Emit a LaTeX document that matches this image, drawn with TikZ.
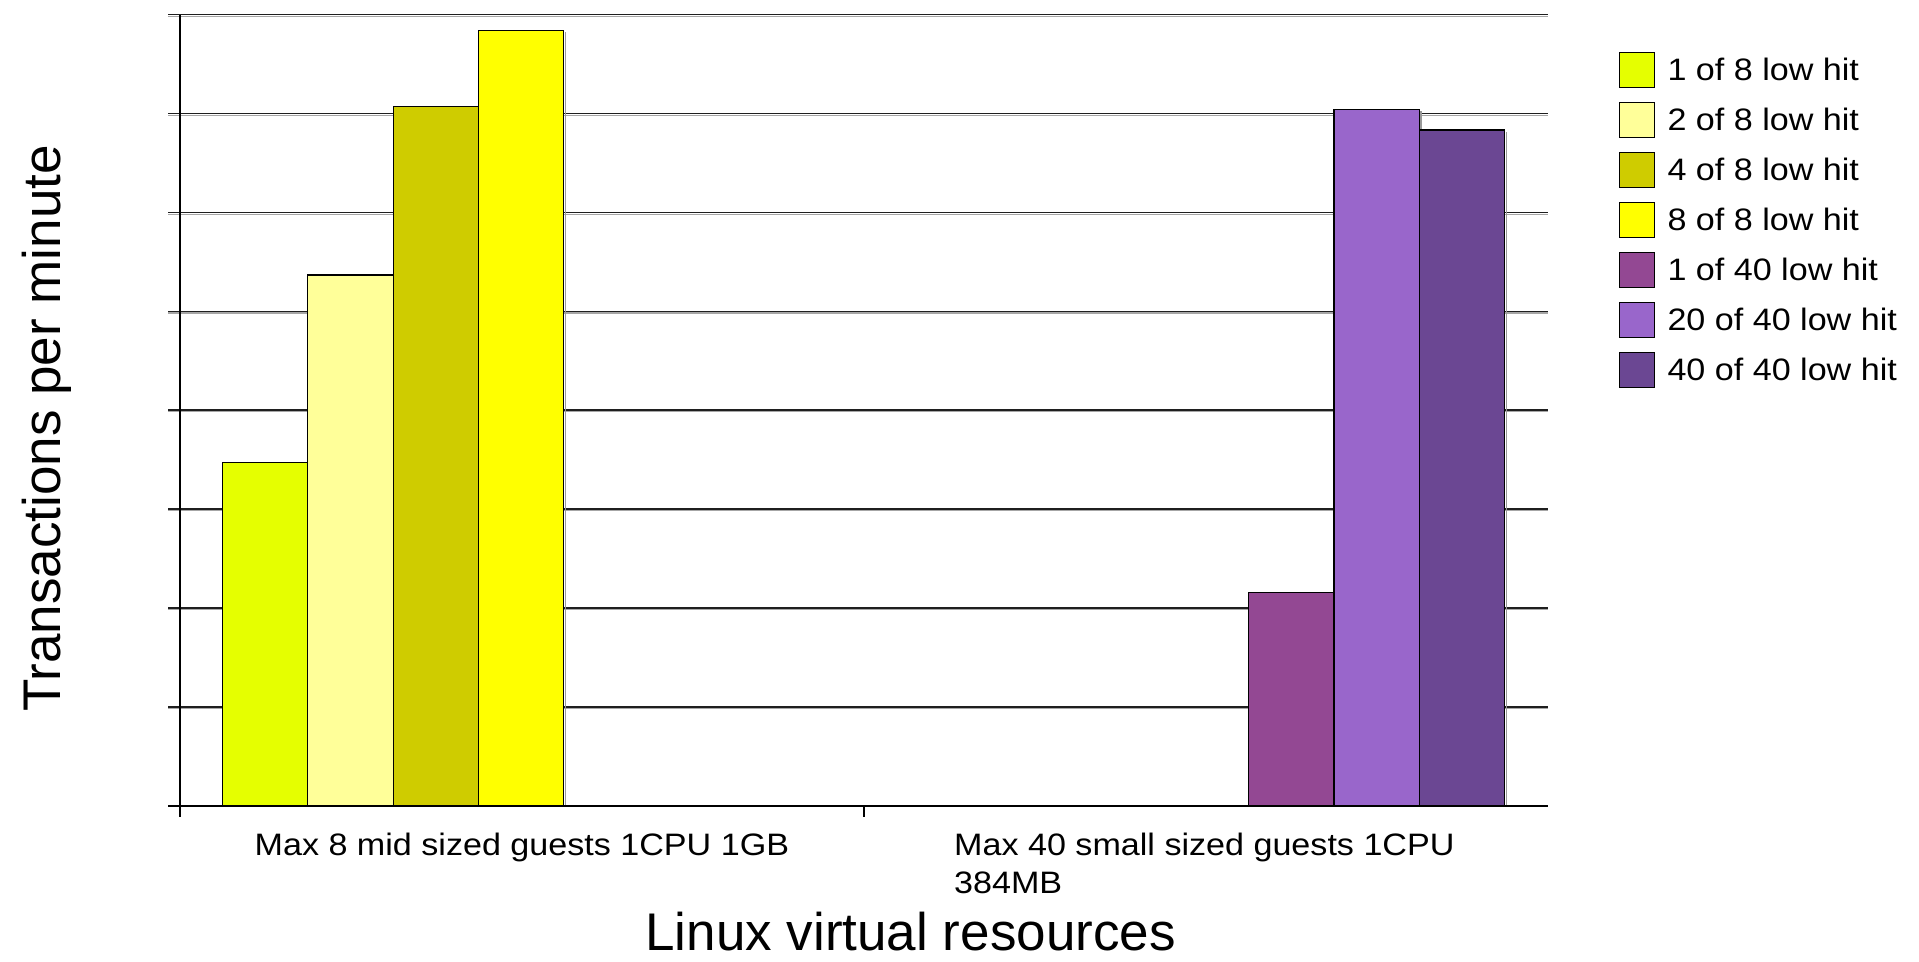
\documentclass[tikz,border=0pt]{standalone}
\usepackage{fontspec}
\setmainfont[FakeStretch=1.1]{Liberation Sans}
\newfontfamily\titlefont{Liberation Sans}
\definecolor{cA}{HTML}{E5FF00}
\definecolor{cB}{HTML}{FFFF99}
\definecolor{cC}{HTML}{CFCC00}
\definecolor{cD}{HTML}{FFFF00}
\definecolor{cE}{HTML}{934893}
\definecolor{cF}{HTML}{9966CB}
\definecolor{cG}{HTML}{6B4793}
\begin{document}
\begin{tikzpicture}[x=1pt,y=-1pt,
  barbox/.style={draw=black,line width=1.3pt},
  barshadow/.style={draw=black!40,line width=1.4pt},
  gridline/.style={line width=1.5pt,draw=black!88},
  gridshadow/.style={line width=1.2pt,draw=black!35},
  axisline/.style={line width=1.6pt,draw=black},
  lbl/.style={inner sep=0pt,font=\fontsize{31}{37.6}\selectfont},
  ttl/.style={inner sep=0pt,font=\titlefont\fontsize{53}{60}\selectfont},
  keybox/.style={draw=black,line width=1.2pt}]
\useasboundingbox (0,0) rectangle (1919,961);
% grid
\foreach \y in {14.7,113.6,212.5,311.3,410.2,509.1,608,706.8}{
  \draw[gridshadow] (168,\y+1.6) -- (1548.3,\y+1.6);
  \draw[gridline] (168,\y) -- (1548.3,\y);
}
% bars
\foreach \xa/\xb/\t/\c in {222.3/307.3/462.7/cA,307.3/393.3/275/cB,393.3/478.7/106.3/cC,478.7/563.7/30.3/cD,1248.3/1334/592.3/cE,1334/1419.3/109.3/cF,1419.3/1504.7/130/cG}{
  \draw[barshadow] (\xb+1.8,\t+2) -- (\xb+1.8,805.7);
  \draw[barbox,fill=\c] (\xa,805.7) rectangle (\xb,\t);
}
% axes
\draw[axisline] (168,805.7) -- (1548.3,805.7);
\draw[axisline] (179.7,14.7) -- (179.7,816.7);
\draw[line width=1.2pt] (864,805.7) -- (864,816.7);
% category labels
\node[lbl,anchor=base] (cat1) at (521.9,855.7) {Max 8 mid sized guests 1CPU 1GB};
\node[lbl,anchor=base west] (cat2a) at (954,855.7) {Max 40 small sized guests 1CPU};
\node[lbl,anchor=base west] (cat2b) at (954,893.3) {384MB};
% titles
\node[ttl,anchor=base] (xtitle) at (910.6,950) {Linux virtual resources};
\node[ttl,anchor=base,rotate=90] (ytitle) at (60,428.5) {Transactions per minute};
% legend
\foreach \i/\c/\txt in {0/cA/1 of 8 low hit,1/cB/2 of 8 low hit,2/cC/4 of 8 low hit,3/cD/8 of 8 low hit,4/cE/1 of 40 low hit,5/cF/20 of 40 low hit,6/cG/40 of 40 low hit}{
  \draw[keybox,fill=\c] (1619.3,52.7+50*\i) rectangle (1654.3,87.3+50*\i);
  \node[lbl,anchor=base west] (key\i) at (1667.3,80.7+50*\i) {\txt};
}
\end{tikzpicture}
\end{document}
